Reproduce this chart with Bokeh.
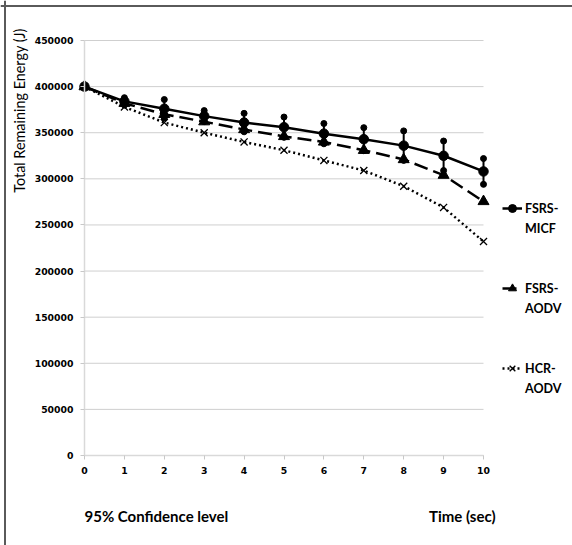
import math
from bokeh.plotting import figure
from bokeh.models import (Range1d, FixedTicker, Legend, LegendItem, Label, Span,
                          ColumnDataSource, BasicTickFormatter)
from bokeh.embed import file_html
from bokeh.resources import INLINE

# ---------------- data ----------------
time_sec = [0, 1, 2, 3, 4, 5, 6, 7, 8, 9, 10]
fsrs_micf = [400000, 384000, 376000, 368000, 361000, 356000, 349000, 343000, 336000, 325000, 308000]
fsrs_micf_err = [0, 4000, 10000, 6000, 10000, 11000, 11000, 12500, 16000, 16000, 14000]
fsrs_aodv = [400000, 382000, 370000, 362000, 353500, 346000, 340000, 331000, 321000, 304000, 275500]
hcr_aodv = [400000, 378000, 361000, 350000, 340000, 331000, 320000, 309000, 292000, 269000, 232000]
y_ticks = [0, 50000, 100000, 150000, 200000, 250000, 300000, 350000, 400000, 450000]
x_ticks = time_sec
series_names = [("FSRS-", "MICF"), ("FSRS-", "AODV"), ("HCR-", "AODV")]
y_title = "Total Remaining Energy (J)"
note_text = "95% Confidence level"
x_title = "Time (sec)"

TICK_FONT = "DejaVu Sans"
TEXT_FONT = "Lato"

# ---------------- layout (pixels of the canvas) ----------------
W, H = 572, 545
PX_X0, PX_X1 = 84, 483      # where first / last time tick sit
PX_Y0, PX_Y1 = 455, 40      # where lowest / highest energy tick sit
SX = (PX_X1 - PX_X0) / (x_ticks[-1] - x_ticks[0])
SY = (PX_Y0 - PX_Y1) / (y_ticks[-1] - y_ticks[0])
X_START = x_ticks[0] - PX_X0 / SX
X_END = x_ticks[-1] + (W - PX_X1) / SX
Y_START = y_ticks[0] - (H - PX_Y0) / SY
Y_END = y_ticks[-1] + PX_Y1 / SY


def px2x(px):
    return X_START + px / SX


def px2y(py):
    return Y_END - py / SY


p = figure(width=W, height=H, output_backend="svg", toolbar_location=None,
           x_range=Range1d(X_START, X_END), y_range=Range1d(Y_START, Y_END),
           min_border=0, min_border_left=0, min_border_right=0,
           min_border_top=0, min_border_bottom=0)
p.outline_line_color = None
p.background_fill_color = "white"
p.border_fill_color = "white"
p.grid.grid_line_color = None

# axes drawn at the data origin
for ax in (p.xaxis[0], p.yaxis[0]):
    ax.axis_line_color = "#d9d9d9"
    ax.axis_line_width = 1.5
    ax.major_tick_line_color = "#c8c8c8"
    ax.major_tick_in = 0
    ax.major_tick_out = 4
    ax.minor_tick_line_color = None
    ax.major_label_text_font = TICK_FONT
    ax.major_label_text_font_style = "bold"
    ax.major_label_text_font_size = "9.3px"
    ax.major_label_text_color = "black"
    ax.major_label_standoff = 7
p.xaxis.ticker = FixedTicker(ticks=x_ticks)
p.yaxis.ticker = FixedTicker(ticks=y_ticks)
p.yaxis.formatter = BasicTickFormatter(use_scientific=False)
p.xaxis.bounds = (x_ticks[0], x_ticks[-1])
p.yaxis.bounds = (y_ticks[0], y_ticks[-1])
p.yaxis.fixed_location = x_ticks[0]
p.xaxis.fixed_location = y_ticks[0]

# horizontal gridlines spanning the time axis
p.segment(x0=[x_ticks[0]] * len(y_ticks), x1=[x_ticks[-1]] * len(y_ticks),
          y0=y_ticks, y1=y_ticks, line_color="#cfcfcf", line_width=1)

# chart-area border (left and top edges visible)
p.add_layout(Span(location=px2x(4.5), dimension="height", line_color="#5a5a5a", line_width=2))
p.add_layout(Span(location=px2y(5.5), dimension="width", line_color="#5a5a5a", line_width=2))

# ---------------- series ----------------
src = ColumnDataSource(dict(
    t=time_sec, micf=fsrs_micf, aodv=fsrs_aodv, hcr=hcr_aodv,
    lo=[v - e for v, e in zip(fsrs_micf, fsrs_micf_err)],
    hi=[v + e for v, e in zip(fsrs_micf, fsrs_micf_err)],
))

# error bars (95% confidence) on FSRS-MICF
p.segment(x0="t", y0="lo", x1="t", y1="hi", source=src, line_color="black", line_width=2)
p.scatter(x="t", y="lo", source=src, size=6, marker="circle", color="black")
p.scatter(x="t", y="hi", source=src, size=6, marker="circle", color="black")

l_micf = p.line(x="t", y="micf", source=src, line_color="black", line_width=2.5)
m_micf = p.scatter(x="t", y="micf", source=src, marker="circle", size=9.5, color="black")

l_aodv = p.line(x="t", y="aodv", source=src, line_color="black", line_width=2.5,
                line_dash="14 6")
m_aodv = p.scatter(x="t", y="aodv", source=src, marker="triangle", size=11, color="black")

l_hcr = p.line(x="t", y="hcr", source=src, line_color="black", line_width=2.5,
               line_dash="2 3")
m_hcr = p.scatter(x="t", y="hcr", source=src, marker="x", size=10, line_color="black",
                  line_width=1.3)

dummy = p.scatter(x=[], y=[], size=0, alpha=0)

groups = [[l_micf, m_micf], [l_aodv, m_aodv], [l_hcr, m_hcr]]
items = []
for i, ((first, second), rends) in enumerate(zip(series_names, groups)):
    if i > 0:
        items.append(LegendItem(label=" ", renderers=[dummy]))
        items.append(LegendItem(label=" ", renderers=[dummy]))
    items.append(LegendItem(label=first, renderers=rends))
    items.append(LegendItem(label=second, renderers=[dummy]))

legend = Legend(items=items, location=(502, H - 398), padding=0, margin=0, spacing=0,
                label_height=20, glyph_height=20, glyph_width=20,
                label_standoff=3, border_line_color=None,
                background_fill_alpha=0,
                label_text_font=TEXT_FONT, label_text_font_style="bold",
                label_text_font_size="12.5px", label_text_color="black")
p.add_layout(legend)

# texts
p.add_layout(Label(x=px2x(19), y=px2y(110), text=y_title, angle=math.pi / 2,
                   text_align="center", text_baseline="middle",
                   text_font=TEXT_FONT, text_font_size="14.4px", text_color="black"))
p.add_layout(Label(x=x_ticks[0], y=px2y(515), text=note_text,
                   text_align="left", text_baseline="middle",
                   text_font=TEXT_FONT, text_font_style="bold",
                   text_font_size="15px", text_color="black"))
p.add_layout(Label(x=px2x(495), y=px2y(515), text=x_title,
                   text_align="right", text_baseline="middle",
                   text_font=TEXT_FONT, text_font_style="bold",
                   text_font_size="15px", text_color="black"))

open("out.html", "w").write(file_html(p, INLINE))
